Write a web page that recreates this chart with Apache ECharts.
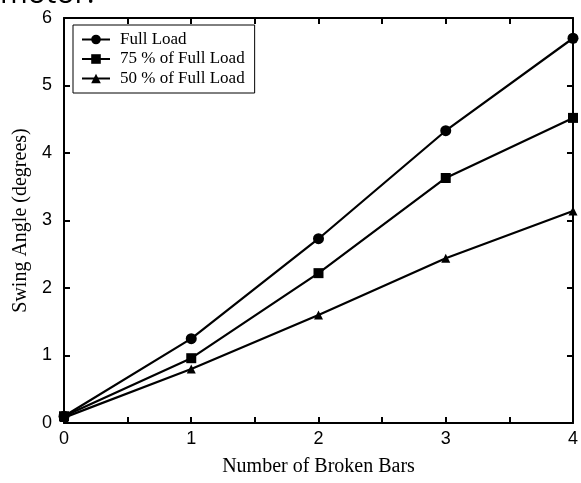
<!DOCTYPE html>
<html>
<head>
    <meta charset="utf-8" />
    <title>Swing Angle vs Broken Bars</title>
    <script src="https://cdn.jsdelivr.net/npm/echarts@6/dist/echarts.min.js"></script>
    <style type="text/css">
        html, body {
            margin: 0;
            padding: 0;
            background: #fff;
        }
        #chart {
            width: 581px;
            height: 483px;
        }
    </style>
</head>
<body>
    <div id="chart"></div>
    <script type="text/javascript">
        // number of broken bars
        var brokenBars = [0, 1, 2, 3, 4];
        // swing angle (degrees) per load level
        var fullLoad = [0.1, 1.25, 2.73, 4.33, 5.7];
        var load75 = [0.1, 0.96, 2.22, 3.63, 4.52];
        var load50 = [0.08, 0.8, 1.6, 2.44, 3.14];
        var seriesNames = ['Full Load', '75 % of Full Load', '50 % of Full Load'];

        var pairs = function (ys) {
            return brokenBars.map(function (x, i) { return [x, ys[i]]; });
        };

        var serif = 'Liberation Serif';
        var sans = 'Liberation Sans';

        var mkSeries = function (name, ys, symbol, size) {
            return {
                name: name,
                type: 'line',
                data: pairs(ys),
                symbol: symbol,
                symbolSize: size,
                showAllSymbol: true,
                itemStyle: { color: '#000' },
                lineStyle: { color: '#000', width: 2.2 },
                clip: false,
                z: 5
            };
        };

        var hidden = { show: false };
        var axLine = { show: true, onZero: false, lineStyle: { color: '#000', width: 2 } };
        var axTick = { show: true, inside: true, length: 6, lineStyle: { color: '#000', width: 2 } };
        var myChart = echarts.init(document.getElementById('chart'), null, { renderer: 'canvas' });
        var option = {
            animation: false,
            backgroundColor: '#fff',
            graphic: [{
                type: 'text',
                left: 0,
                top: -21,
                style: { text: 'motor.', font: '30px "Open Sans", sans-serif', fill: '#000' }
            }],
            grid: { left: 64, right: 4, top: 18, bottom: 60 },
            legend: {
                orient: 'vertical',
                left: 73,
                top: 25,
                data: seriesNames,
                itemWidth: 28,
                itemHeight: 12,
                itemGap: 2.5,
                padding: [6, 10, 6, 8],
                borderColor: '#000',
                borderWidth: 1,
                textStyle: {
                    fontFamily: serif, fontSize: 17, lineHeight: 17, color: '#000',
                    padding: [0, 0, 0, 5]
                }
            },
            xAxis: [{
                type: 'value',
                min: 0,
                max: 4,
                interval: 0.5,
                name: 'Number of Broken Bars',
                nameLocation: 'middle',
                nameGap: 34,
                nameTextStyle: { fontFamily: serif, fontSize: 20, color: '#000' },
                axisLine: axLine,
                axisTick: axTick,
                axisLabel: {
                    fontFamily: sans, fontSize: 18, color: '#000', margin: 7,
                    formatter: function (v) { return v % 1 === 0 ? String(v) : ''; }
                },
                splitLine: hidden
            }, {
                type: 'value',
                position: 'top',
                min: 0,
                max: 4,
                interval: 0.5,
                axisLine: axLine,
                axisTick: axTick,
                axisLabel: hidden,
                splitLine: hidden
            }],
            yAxis: [{
                type: 'value',
                min: 0,
                max: 6,
                interval: 1,
                name: 'Swing Angle (degrees)',
                nameLocation: 'middle',
                nameGap: 32,
                nameTextStyle: { fontFamily: serif, fontSize: 20, color: '#000' },
                axisLine: axLine,
                axisTick: axTick,
                axisLabel: { fontFamily: sans, fontSize: 18, color: '#000', margin: 12 },
                splitLine: hidden
            }, {
                type: 'value',
                position: 'right',
                min: 0,
                max: 6,
                interval: 1,
                axisLine: axLine,
                axisTick: axTick,
                axisLabel: hidden,
                splitLine: hidden
            }],
            series: [
                mkSeries(seriesNames[0], fullLoad, 'circle', 11),
                mkSeries(seriesNames[1], load75, 'rect', 10),
                mkSeries(seriesNames[2], load50, 'triangle', 9)
            ]
        };
        myChart.setOption(option);
    </script>
</body>
</html>
